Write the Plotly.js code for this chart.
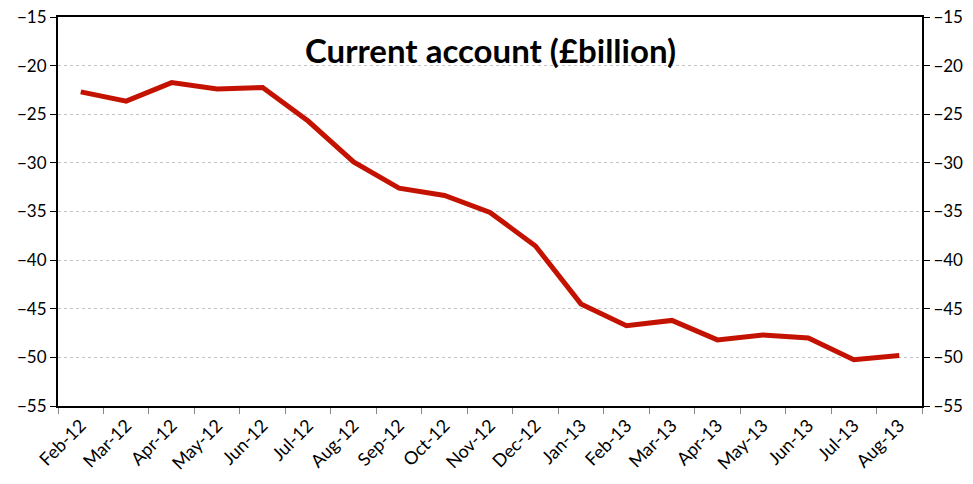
<!DOCTYPE html>
<html>
<head>
<meta charset="utf-8">
<script src="https://cdn.plot.ly/plotly-3.0.1.min.js"></script>
<style>html,body{margin:0;padding:0;background:#fff;}#chart{width:973px;height:484px;}</style>
</head>
<body>
<div id="chart"></div>
<script>
const months = ["Feb-12","Mar-12","Apr-12","May-12","Jun-12","Jul-12","Aug-12","Sep-12","Oct-12","Nov-12","Dec-12","Jan-13","Feb-13","Mar-13","Apr-13","May-13","Jun-13","Jul-13","Aug-13"];
const currentAccount = [-22.7,-23.65,-21.75,-22.4,-22.25,-25.7,-29.9,-32.6,-33.35,-35.1,-38.55,-44.5,-46.75,-46.2,-48.2,-47.7,-48.0,-50.25,-49.8];
const yTicks = [-15,-20,-25,-30,-35,-40,-45,-50,-55];
const titleText = "Current account (£billion)";

const font = {family: "Lato, 'DejaVu Sans', sans-serif", size: 17, color: "#000"};
const xfont = {family: "Lato, 'DejaVu Sans', sans-serif", size: 18, color: "#000"};
const data = [
  {x: months, y: currentAccount, type: "scatter", mode: "lines",
   line: {color: "#C41200", width: 5}, hoverinfo: "skip", xaxis: "x", yaxis: "y"},
  {x: months, y: currentAccount, type: "scatter", mode: "lines",
   line: {color: "rgba(0,0,0,0)", width: 0}, hoverinfo: "skip", xaxis: "x", yaxis: "y2", showlegend: false}
];
const layout = {
  width: 973, height: 484,
  margin: {l: 58, r: 51, t: 17, b: 78, pad: 0},
  paper_bgcolor: "#fff", plot_bgcolor: "#fff",
  showlegend: false,
  font: font,
  xaxis: {type: "category", range: [-0.5, months.length - 0.5], tickson: "boundaries", ticks: "outside", ticklen: 6, tickcolor: "#888",
          showline: true, linecolor: "#000", linewidth: 2, mirror: true,
          showgrid: false, tickangle: -45, tickfont: xfont, zeroline: false},
  yaxis: {range: [-55, -15], tickvals: yTicks, ticks: "outside", ticklen: 6, tickcolor: "#000",
          showline: true, linecolor: "#000", linewidth: 2, showgrid: true,
          gridcolor: "#c4c4c4", griddash: "dot", gridwidth: 1, zeroline: false, tickfont: font},
  yaxis2: {range: [-55, -15], tickvals: yTicks, overlaying: "y", side: "right", ticks: "outside", ticklen: 6,
           tickcolor: "#000", showline: true, linecolor: "#000", linewidth: 2, showgrid: false,
           zeroline: false, tickfont: font},
  annotations: [{text: "<b>" + titleText + "</b>", xref: "paper", yref: "paper", x: 0.5, y: 0.915,
                 xanchor: "center", yanchor: "middle", showarrow: false,
                 font: {family: "Lato, 'DejaVu Sans', sans-serif", size: 33, weight: 900, color: "#000"}}]
};
Plotly.newPlot("chart", data, layout, {staticPlot: true});
</script>
</body>
</html>
